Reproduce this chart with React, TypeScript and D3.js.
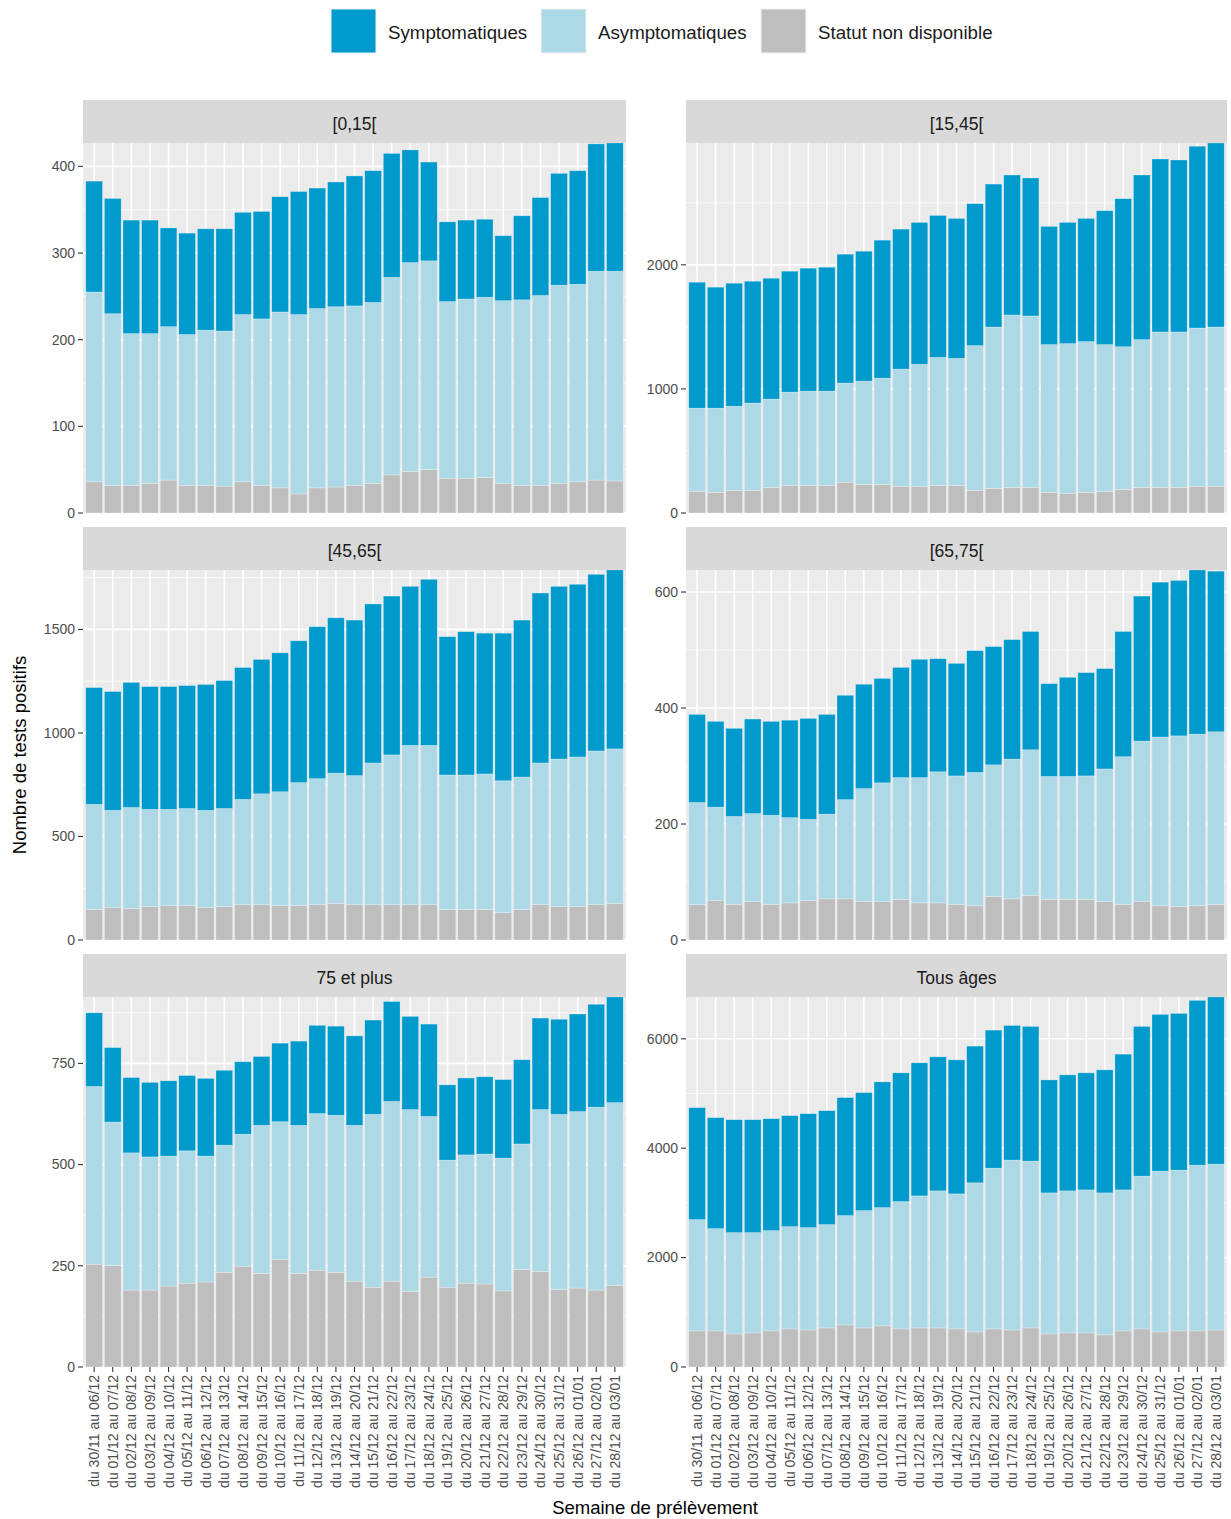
import React from "react";
import * as d3 from "d3";

// Weekly sampling windows (x categories)
const weeks = [
  "du 30/11 au 06/12", "du 01/12 au 07/12", "du 02/12 au 08/12", "du 03/12 au 09/12",
  "du 04/12 au 10/12", "du 05/12 au 11/12", "du 06/12 au 12/12", "du 07/12 au 13/12",
  "du 08/12 au 14/12", "du 09/12 au 15/12", "du 10/12 au 16/12", "du 11/12 au 17/12",
  "du 12/12 au 18/12", "du 13/12 au 19/12", "du 14/12 au 20/12", "du 15/12 au 21/12",
  "du 16/12 au 22/12", "du 17/12 au 23/12", "du 18/12 au 24/12", "du 19/12 au 25/12",
  "du 20/12 au 26/12", "du 21/12 au 27/12", "du 22/12 au 28/12", "du 23/12 au 29/12",
  "du 24/12 au 30/12", "du 25/12 au 31/12", "du 26/12 au 01/01", "du 27/12 au 02/01",
  "du 28/12 au 03/01",
];

const ageGroups = ["[0,15[", "[15,45[", "[45,65[", "[65,75[", "75 et plus", "Tous âges"];

const seriesKeys = ["nd", "asym", "sym"];
const seriesLabels = ["Symptomatiques", "Asymptomatiques", "Statut non disponible"];
const legendKeys = ["sym", "asym", "nd"];

// Symptomatic positives per week, by age group
const sym0_15 = [128,133,131,131,114,117,117,118,118,124,133,142,139,144,150,152,143,130,114,92,91,90,75,97,113,129,131,147,148];
const sym15_45 = [1015,975,991,982,974,975,991,999,1039,1047,1112,1128,1144,1144,1128,1144,1152,1128,1112,953,977,993,1079,1193,1327,1394,1386,1465,1483];
const sym45_65 = [564,574,604,593,593,594,608,618,637,649,671,685,734,750,751,768,767,768,802,668,692,680,713,758,821,834,834,853,864];
const sym65_75 = [152,148,152,163,162,168,174,172,180,180,180,190,204,195,194,210,204,206,204,160,171,178,173,216,250,267,268,283,277];
const sym75 = [182,184,186,184,186,186,192,185,179,170,194,208,218,220,221,233,247,230,228,186,190,191,194,208,226,235,241,254,261];
const symAll = [2047,2029,2065,2065,2047,2029,2083,2083,2157,2157,2298,2353,2432,2450,2450,2499,2524,2462,2462,2065,2120,2139,2249,2481,2737,2866,2865,3012,3055];

// Asymptomatic positives per week, by age group
const asym0_15 = [219,198,175,173,177,174,179,179,193,192,203,207,207,208,207,209,228,241,241,204,207,208,211,214,219,229,228,241,242];
const asym15_45 = [670,678,678,703,711,751,759,759,799,832,856,945,983,1031,1023,1166,1300,1389,1381,1190,1206,1214,1182,1149,1190,1252,1252,1276,1284];
const asym45_65 = [508,470,488,470,465,469,470,474,508,535,550,594,608,630,623,684,723,769,769,650,650,655,637,640,684,713,723,742,747];
const asym65_75 = [176,161,152,152,154,147,140,146,171,195,205,210,216,226,222,230,227,241,251,212,212,213,229,255,277,291,294,296,298];
const asym75 = [439,354,339,329,321,327,311,314,326,366,341,366,387,388,385,427,444,450,397,314,317,321,328,310,400,432,436,452,451];
const asymAll = [2034,1869,1851,1833,1833,1869,1870,1888,1998,2144,2162,2327,2413,2505,2468,2725,2938,3104,3049,2578,2597,2615,2596,2578,2792,2938,2939,3030,3031];

// Positives with unknown symptom status, by age group
const nd0_15 = [36,32,32,34,38,32,32,31,36,32,29,22,29,30,32,34,44,48,50,40,40,41,34,32,32,34,36,38,37];
const nd15_45 = [175,167,183,183,207,223,223,223,248,231,231,215,215,223,223,183,199,207,207,167,159,167,175,191,207,207,207,215,215];
const nd45_65 = [147,156,152,161,166,166,156,161,171,171,166,166,171,176,171,171,171,171,171,147,147,147,132,147,171,161,161,171,176];
const nd65_75 = [61,68,61,66,61,64,68,71,71,66,66,70,64,64,61,59,75,71,77,70,70,70,66,61,66,59,58,59,61];
const nd75 = [254,251,190,190,200,207,210,234,249,231,265,231,239,234,212,197,212,186,222,197,207,205,188,241,236,192,195,190,202];
const ndAll = [660,660,605,623,660,697,678,715,770,715,752,697,715,715,697,642,697,678,715,605,623,623,587,660,697,642,660,660,678];

// Y-axis breaks per facet
const ticks0_15 = [0, 100, 200, 300, 400];
const ticks15_45 = [0, 1000, 2000];
const ticks45_65 = [0, 500, 1000, 1500];
const ticks65_75 = [0, 200, 400, 600];
const ticks75 = [0, 250, 500, 750];
const ticksAll = [0, 2000, 4000, 6000];

const symSeries = [sym0_15, sym15_45, sym45_65, sym65_75, sym75, symAll];
const asymSeries = [asym0_15, asym15_45, asym45_65, asym65_75, asym75, asymAll];
const ndSeries = [nd0_15, nd15_45, nd45_65, nd65_75, nd75, ndAll];
const tickSets = [ticks0_15, ticks15_45, ticks45_65, ticks65_75, ticks75, ticksAll];

const COLORS: Record<string, string> = { sym: "#009ACD", asym: "#ADD8E6", nd: "#BEBEBE" };
const FONT = "'Liberation Sans', Arial, Helvetica, sans-serif";

const W = 1231;
const H = 1519;
const colX = [[83, 626], [686, 1227]];
const rowTop = [100, 527, 954];
const STRIP_H = 43;
const PANEL_H = 370;

function Panel({ idx }: { idx: number }) {
  const col = idx % 2;
  const row = Math.floor(idx / 2);
  const [x0, x1] = colX[col];
  const stripTop = rowTop[row];
  const top = stripTop + STRIP_H;
  const bottom = top + PANEL_H;

  const rows = weeks.map((w, i) => ({
    week: w,
    sym: symSeries[idx][i],
    asym: asymSeries[idx][i],
    nd: ndSeries[idx][i],
  }));
  const stacked = d3.stack<any>().keys(seriesKeys)(rows);
  const maxTotal = d3.max(rows, (r) => r.sym + r.asym + r.nd) as number;

  const x = d3.scaleBand<string>().domain(weeks).range([x0, x1]).paddingInner(0.1).paddingOuter(0.15);
  const y = d3.scaleLinear().domain([0, maxTotal]).range([bottom, top]);

  const ticks = tickSets[idx];
  const step = ticks[1] - ticks[0];
  const minor: number[] = [];
  for (let v = step / 2; v < maxTotal; v += step) {
    if (!ticks.includes(v)) minor.push(v);
  }

  const isBottom = row === 2;

  return (
    <g>
      <rect x={x0} y={top} width={x1 - x0} height={PANEL_H} fill="#EBEBEB" />
      {minor.map((v) => (
        <line key={"mi" + v} x1={x0} x2={x1} y1={y(v)} y2={y(v)} stroke="#fff" strokeWidth={0.8} />
      ))}
      {ticks.map((v) => (
        <line key={"ma" + v} x1={x0} x2={x1} y1={y(v)} y2={y(v)} stroke="#fff" strokeWidth={1.6} />
      ))}
      {weeks.map((w) => {
        const cx = (x(w) as number) + x.bandwidth() / 2;
        return <line key={"v" + w} x1={cx} x2={cx} y1={top} y2={bottom} stroke="#fff" strokeWidth={1.6} />;
      })}
      {stacked.map((s) => (
        <g key={s.key}>
          {s.map((d, i) => (
            <rect
              key={i}
              x={x(weeks[i]) as number}
              width={x.bandwidth()}
              y={y(d[1])}
              height={y(d[0]) - y(d[1])}
              fill={COLORS[s.key]}
              stroke="#ffffff"
              strokeOpacity={0.45}
              strokeWidth={0.6}
            />
          ))}
        </g>
      ))}
      {/* strip */}
      <rect x={x0} y={stripTop} width={x1 - x0} height={STRIP_H} fill="#D9D9D9" />
      <text
        x={(x0 + x1) / 2}
        y={stripTop + STRIP_H / 2 + 2}
        dy="0.35em"
        textAnchor="middle"
        fontFamily={FONT}
        fontSize={17.5}
        fill="#1A1A1A"
      >
        {ageGroups[idx]}
      </text>
      {/* y axis */}
      {ticks.map((v) => (
        <g key={"yt" + v}>
          <line x1={x0 - 5} x2={x0} y1={y(v)} y2={y(v)} stroke="#333" strokeWidth={1.1} />
          <text
            x={x0 - 8}
            y={y(v)}
            dy="0.35em"
            textAnchor="end"
            fontFamily={FONT}
            fontSize={14}
            fill="#4D4D4D"
          >
            {v}
          </text>
        </g>
      ))}
      {/* x axis on bottom row */}
      {isBottom &&
        weeks.map((w) => {
          const cx = (x(w) as number) + x.bandwidth() / 2;
          return (
            <g key={"xt" + w}>
              <line x1={cx} x2={cx} y1={bottom} y2={bottom + 5} stroke="#333" strokeWidth={1.1} />
              <text
                transform={`translate(${cx + 5},${bottom + 8}) rotate(-90)`}
                textAnchor="end"
                fontFamily={FONT}
                fontSize={14}
                fill="#4D4D4D"
              >
                {w}
              </text>
            </g>
          );
        })}
    </g>
  );
}

export default function App() {
  const legendX = [331, 541, 761];
  return (
    <svg
      width={W}
      height={H}
      style={{ position: "absolute", left: 0, top: 0, background: "#fff" }}
      xmlns="http://www.w3.org/2000/svg"
    >
      <rect x={0} y={0} width={W} height={H} fill="#fff" />
      {legendKeys.map((k, i) => (
        <g key={k}>
          <rect x={legendX[i]} y={9} width={45} height={44} fill={COLORS[k]} stroke="#F2F2F2" strokeWidth={1} />
          <text x={legendX[i] + 57} y={32} dy="0.35em" fontFamily={FONT} fontSize={18.7} fill="#1A1A1A">
            {seriesLabels[i]}
          </text>
        </g>
      ))}
      {ageGroups.map((g, i) => (
        <Panel key={g} idx={i} />
      ))}
      <text
        transform={`translate(26,755) rotate(-90)`}
        textAnchor="middle"
        fontFamily={FONT}
        fontSize={18.5}
        fill="#000"
      >
        Nombre de tests positifs
      </text>
      <text x={655} y={1514} textAnchor="middle" fontFamily={FONT} fontSize={18.5} fill="#000">
        Semaine de prélèvement
      </text>
    </svg>
  );
}
